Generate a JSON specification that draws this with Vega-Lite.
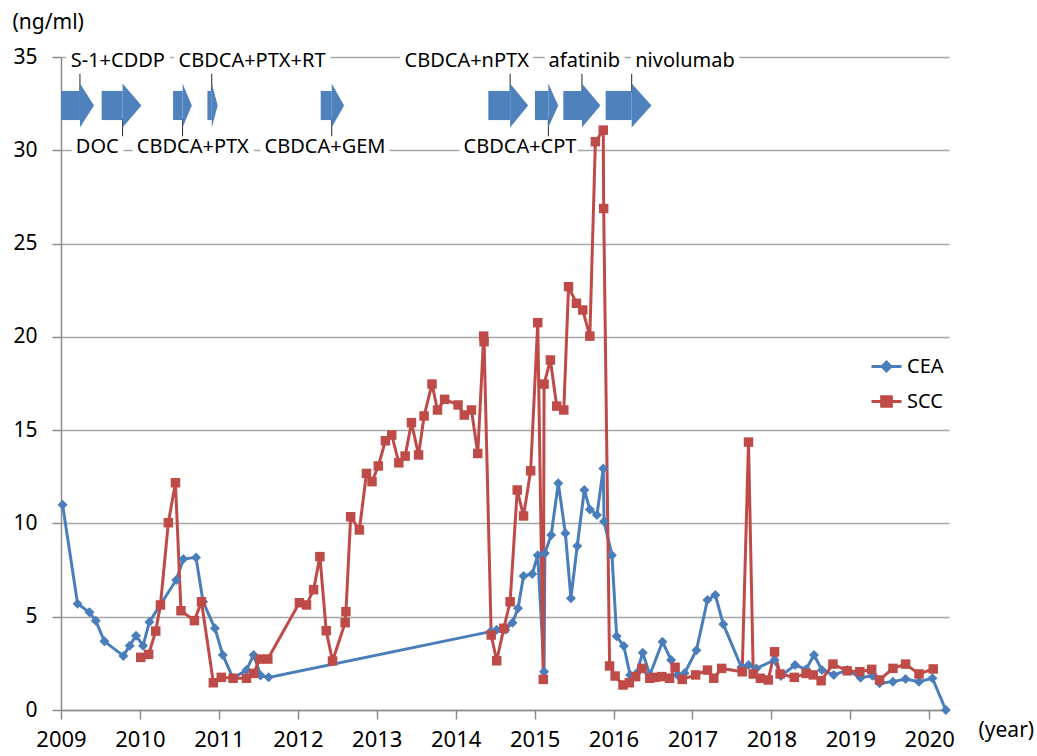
{
  "$schema": "https://vega.github.io/schema/vega-lite/v6.json",
  "width": 888,
  "height": 653,
  "autosize": {"type": "none"},
  "padding": {"left": 61, "top": 57, "right": 88, "bottom": 46},
  "background": "white",
  "config": {
    "font": "Noto Sans",
    "view": {"stroke": null},
    "axis": {"labelColor": "#000000", "titleColor": "#000000", "titleFontWeight": "normal"}
  },
  "datasets": {
    "markers": [
      {"series": "CEA", "year": 2009.02, "value": 11.0},
      {"series": "CEA", "year": 2009.21, "value": 5.7},
      {"series": "CEA", "year": 2009.36, "value": 5.24},
      {"series": "CEA", "year": 2009.44, "value": 4.79},
      {"series": "CEA", "year": 2009.55, "value": 3.68},
      {"series": "CEA", "year": 2009.79, "value": 2.9},
      {"series": "CEA", "year": 2009.87, "value": 3.45},
      {"series": "CEA", "year": 2009.95, "value": 3.98},
      {"series": "CEA", "year": 2010.04, "value": 3.45},
      {"series": "CEA", "year": 2010.12, "value": 4.72},
      {"series": "CEA", "year": 2010.46, "value": 6.97},
      {"series": "CEA", "year": 2010.55, "value": 8.09},
      {"series": "CEA", "year": 2010.71, "value": 8.18},
      {"series": "CEA", "year": 2010.8, "value": 5.8},
      {"series": "CEA", "year": 2010.95, "value": 4.38},
      {"series": "CEA", "year": 2011.05, "value": 2.95},
      {"series": "CEA", "year": 2011.18, "value": 1.7},
      {"series": "CEA", "year": 2011.35, "value": 2.14},
      {"series": "CEA", "year": 2011.44, "value": 2.95},
      {"series": "CEA", "year": 2011.53, "value": 1.85},
      {"series": "CEA", "year": 2011.63, "value": 1.75},
      {"series": "CEA", "year": 2014.44, "value": 4.2},
      {"series": "CEA", "year": 2014.52, "value": 4.3},
      {"series": "CEA", "year": 2014.63, "value": 4.3},
      {"series": "CEA", "year": 2014.72, "value": 4.68},
      {"series": "CEA", "year": 2014.79, "value": 5.45},
      {"series": "CEA", "year": 2014.86, "value": 7.18},
      {"series": "CEA", "year": 2014.97, "value": 7.29},
      {"series": "CEA", "year": 2015.04, "value": 8.3},
      {"series": "CEA", "year": 2015.12, "value": 2.05},
      {"series": "CEA", "year": 2015.13, "value": 8.4},
      {"series": "CEA", "year": 2015.21, "value": 9.38},
      {"series": "CEA", "year": 2015.3, "value": 12.15},
      {"series": "CEA", "year": 2015.39, "value": 9.47},
      {"series": "CEA", "year": 2015.46, "value": 5.99},
      {"series": "CEA", "year": 2015.54, "value": 8.79},
      {"series": "CEA", "year": 2015.63, "value": 11.79},
      {"series": "CEA", "year": 2015.7, "value": 10.75},
      {"series": "CEA", "year": 2015.79, "value": 10.45},
      {"series": "CEA", "year": 2015.87, "value": 12.95},
      {"series": "CEA", "year": 2015.88, "value": 10.1},
      {"series": "CEA", "year": 2015.98, "value": 8.3},
      {"series": "CEA", "year": 2016.04, "value": 3.95},
      {"series": "CEA", "year": 2016.13, "value": 3.43},
      {"series": "CEA", "year": 2016.21, "value": 1.88},
      {"series": "CEA", "year": 2016.29, "value": 1.95},
      {"series": "CEA", "year": 2016.37, "value": 3.07},
      {"series": "CEA", "year": 2016.46, "value": 1.88},
      {"series": "CEA", "year": 2016.62, "value": 3.66},
      {"series": "CEA", "year": 2016.73, "value": 2.68},
      {"series": "CEA", "year": 2016.81, "value": 1.88},
      {"series": "CEA", "year": 2016.9, "value": 1.97},
      {"series": "CEA", "year": 2017.05, "value": 3.2},
      {"series": "CEA", "year": 2017.19, "value": 5.9},
      {"series": "CEA", "year": 2017.29, "value": 6.16},
      {"series": "CEA", "year": 2017.39, "value": 4.6},
      {"series": "CEA", "year": 2017.62, "value": 2.29},
      {"series": "CEA", "year": 2017.71, "value": 2.41},
      {"series": "CEA", "year": 2017.81, "value": 2.23},
      {"series": "CEA", "year": 2018.04, "value": 2.68},
      {"series": "CEA", "year": 2018.12, "value": 1.82},
      {"series": "CEA", "year": 2018.3, "value": 2.41},
      {"series": "CEA", "year": 2018.44, "value": 2.18},
      {"series": "CEA", "year": 2018.54, "value": 2.95},
      {"series": "CEA", "year": 2018.64, "value": 2.14},
      {"series": "CEA", "year": 2018.79, "value": 1.88},
      {"series": "CEA", "year": 2018.96, "value": 2.14},
      {"series": "CEA", "year": 2019.13, "value": 1.73},
      {"series": "CEA", "year": 2019.28, "value": 1.84},
      {"series": "CEA", "year": 2019.37, "value": 1.43},
      {"series": "CEA", "year": 2019.54, "value": 1.52},
      {"series": "CEA", "year": 2019.7, "value": 1.66},
      {"series": "CEA", "year": 2019.87, "value": 1.52},
      {"series": "CEA", "year": 2020.04, "value": 1.7},
      {"series": "CEA", "year": 2020.21, "value": 0.0},
      {"series": "SCC", "year": 2010.01, "value": 2.82},
      {"series": "SCC", "year": 2010.11, "value": 2.98},
      {"series": "SCC", "year": 2010.2, "value": 4.23},
      {"series": "SCC", "year": 2010.26, "value": 5.63},
      {"series": "SCC", "year": 2010.36, "value": 10.04},
      {"series": "SCC", "year": 2010.45, "value": 12.18},
      {"series": "SCC", "year": 2010.52, "value": 5.32},
      {"series": "SCC", "year": 2010.69, "value": 4.79},
      {"series": "SCC", "year": 2010.78, "value": 5.8},
      {"series": "SCC", "year": 2010.93, "value": 1.46},
      {"series": "SCC", "year": 2011.03, "value": 1.75},
      {"series": "SCC", "year": 2011.18, "value": 1.7},
      {"series": "SCC", "year": 2011.35, "value": 1.7},
      {"series": "SCC", "year": 2011.44, "value": 1.96},
      {"series": "SCC", "year": 2011.52, "value": 2.73},
      {"series": "SCC", "year": 2011.62, "value": 2.73},
      {"series": "SCC", "year": 2012.02, "value": 5.75},
      {"series": "SCC", "year": 2012.11, "value": 5.63},
      {"series": "SCC", "year": 2012.2, "value": 6.45},
      {"series": "SCC", "year": 2012.28, "value": 8.22},
      {"series": "SCC", "year": 2012.36, "value": 4.25},
      {"series": "SCC", "year": 2012.44, "value": 2.63},
      {"series": "SCC", "year": 2012.6, "value": 4.68},
      {"series": "SCC", "year": 2012.61, "value": 5.27},
      {"series": "SCC", "year": 2012.67, "value": 10.36},
      {"series": "SCC", "year": 2012.78, "value": 9.65},
      {"series": "SCC", "year": 2012.87, "value": 12.68},
      {"series": "SCC", "year": 2012.94, "value": 12.24},
      {"series": "SCC", "year": 2013.02, "value": 13.08},
      {"series": "SCC", "year": 2013.11, "value": 14.43},
      {"series": "SCC", "year": 2013.19, "value": 14.74},
      {"series": "SCC", "year": 2013.28, "value": 13.25},
      {"series": "SCC", "year": 2013.36, "value": 13.61},
      {"series": "SCC", "year": 2013.44, "value": 15.4},
      {"series": "SCC", "year": 2013.53, "value": 13.67},
      {"series": "SCC", "year": 2013.6, "value": 15.76},
      {"series": "SCC", "year": 2013.7, "value": 17.47},
      {"series": "SCC", "year": 2013.77, "value": 16.08},
      {"series": "SCC", "year": 2013.86, "value": 16.65},
      {"series": "SCC", "year": 2014.03, "value": 16.35},
      {"series": "SCC", "year": 2014.11, "value": 15.81},
      {"series": "SCC", "year": 2014.2, "value": 16.08},
      {"series": "SCC", "year": 2014.28, "value": 13.75},
      {"series": "SCC", "year": 2014.355, "value": 20.04},
      {"series": "SCC", "year": 2014.36, "value": 19.74},
      {"series": "SCC", "year": 2014.45, "value": 4.02},
      {"series": "SCC", "year": 2014.52, "value": 2.64},
      {"series": "SCC", "year": 2014.61, "value": 4.38},
      {"series": "SCC", "year": 2014.69, "value": 5.8},
      {"series": "SCC", "year": 2014.78, "value": 11.79},
      {"series": "SCC", "year": 2014.86, "value": 10.4},
      {"series": "SCC", "year": 2014.95, "value": 12.82},
      {"series": "SCC", "year": 2015.04, "value": 20.76},
      {"series": "SCC", "year": 2015.11, "value": 1.64},
      {"series": "SCC", "year": 2015.12, "value": 17.47},
      {"series": "SCC", "year": 2015.2, "value": 18.76},
      {"series": "SCC", "year": 2015.28, "value": 16.29},
      {"series": "SCC", "year": 2015.37, "value": 16.08},
      {"series": "SCC", "year": 2015.43, "value": 22.69},
      {"series": "SCC", "year": 2015.53, "value": 21.8},
      {"series": "SCC", "year": 2015.61, "value": 21.44},
      {"series": "SCC", "year": 2015.7, "value": 20.04},
      {"series": "SCC", "year": 2015.77, "value": 30.46},
      {"series": "SCC", "year": 2015.87, "value": 31.08},
      {"series": "SCC", "year": 2015.875, "value": 26.88},
      {"series": "SCC", "year": 2015.95, "value": 2.36},
      {"series": "SCC", "year": 2016.02, "value": 1.82},
      {"series": "SCC", "year": 2016.12, "value": 1.34},
      {"series": "SCC", "year": 2016.2, "value": 1.46},
      {"series": "SCC", "year": 2016.28, "value": 1.79},
      {"series": "SCC", "year": 2016.36, "value": 2.23},
      {"series": "SCC", "year": 2016.46, "value": 1.7},
      {"series": "SCC", "year": 2016.53, "value": 1.75},
      {"series": "SCC", "year": 2016.61, "value": 1.79},
      {"series": "SCC", "year": 2016.71, "value": 1.7},
      {"series": "SCC", "year": 2016.78, "value": 2.29},
      {"series": "SCC", "year": 2016.87, "value": 1.64},
      {"series": "SCC", "year": 2017.04, "value": 1.88},
      {"series": "SCC", "year": 2017.19, "value": 2.14},
      {"series": "SCC", "year": 2017.27, "value": 1.7},
      {"series": "SCC", "year": 2017.37, "value": 2.23},
      {"series": "SCC", "year": 2017.63, "value": 2.05},
      {"series": "SCC", "year": 2017.71, "value": 14.36},
      {"series": "SCC", "year": 2017.77, "value": 1.93},
      {"series": "SCC", "year": 2017.86, "value": 1.7},
      {"series": "SCC", "year": 2017.96, "value": 1.61},
      {"series": "SCC", "year": 2018.04, "value": 3.12},
      {"series": "SCC", "year": 2018.11, "value": 1.93},
      {"series": "SCC", "year": 2018.29, "value": 1.75},
      {"series": "SCC", "year": 2018.44, "value": 1.96},
      {"series": "SCC", "year": 2018.53, "value": 1.88},
      {"series": "SCC", "year": 2018.63, "value": 1.57},
      {"series": "SCC", "year": 2018.78, "value": 2.46},
      {"series": "SCC", "year": 2018.96, "value": 2.1},
      {"series": "SCC", "year": 2019.12, "value": 2.05},
      {"series": "SCC", "year": 2019.27, "value": 2.18},
      {"series": "SCC", "year": 2019.37, "value": 1.61},
      {"series": "SCC", "year": 2019.54, "value": 2.23},
      {"series": "SCC", "year": 2019.7, "value": 2.46},
      {"series": "SCC", "year": 2019.87, "value": 1.93},
      {"series": "SCC", "year": 2020.05, "value": 2.2}
    ],
    "treatments": [
      {"treatment": "S-1+CDDP", "start": 2009.0, "neck": 2009.24, "end": 2009.42, "labelYear": 2009.72},
      {"treatment": "DOC", "start": 2009.515, "neck": 2009.78, "end": 2010.02, "labelYear": 2009.46},
      {"treatment": "CBDCA+PTX", "start": 2010.42, "neck": 2010.54, "end": 2010.655, "labelYear": 2010.67},
      {"treatment": "CBDCA+PTX+RT", "start": 2010.855, "neck": 2010.91, "end": 2010.98, "labelYear": 2011.42},
      {"treatment": "CBDCA+GEM", "start": 2012.29, "neck": 2012.43, "end": 2012.585, "labelYear": 2012.345},
      {"treatment": "CBDCA+nPTX", "start": 2014.414, "neck": 2014.69, "end": 2014.92, "labelYear": 2014.14},
      {"treatment": "CBDCA+CPT", "start": 2015.005, "neck": 2015.174, "end": 2015.3, "labelYear": 2014.815},
      {"treatment": "afatinib", "start": 2015.364, "neck": 2015.6, "end": 2015.83, "labelYear": 2015.63},
      {"treatment": "nivolumab", "start": 2015.9, "neck": 2016.23, "end": 2016.48, "labelYear": 2016.905}
    ]
  },
  "layer": [
    {
      "data": {"name": "treatments"},
      "transform": [{"filter": {"field": "treatment", "oneOf": ["S-1+CDDP", "CBDCA+PTX+RT", "CBDCA+nPTX", "afatinib", "nivolumab"]}}],
      "mark": {"type": "text", "fontSize": 20, "fill": "white", "stroke": "white", "strokeWidth": 12, "strokeJoin": "round", "baseline": "middle", "align": "center"},
      "encoding": {
        "x": {"field": "labelYear", "type": "quantitative"},
        "y": {"datum": 34.8, "type": "quantitative"},
        "text": {"field": "treatment"}
      }
    },
    {
      "data": {"name": "treatments"},
      "transform": [{"filter": {"field": "treatment", "oneOf": ["DOC", "CBDCA+PTX", "CBDCA+GEM", "CBDCA+CPT"]}}],
      "mark": {"type": "text", "fontSize": 20, "fill": "white", "stroke": "white", "strokeWidth": 12, "strokeJoin": "round", "baseline": "middle", "align": "center"},
      "encoding": {
        "x": {"field": "labelYear", "type": "quantitative"},
        "y": {"datum": 30.15, "type": "quantitative"},
        "text": {"field": "treatment"}
      }
    },
    {
      "data": {"name": "treatments"},
      "transform": [{"filter": {"field": "treatment", "oneOf": ["S-1+CDDP", "CBDCA+PTX+RT", "CBDCA+nPTX", "afatinib", "nivolumab"]}}],
      "mark": {"type": "rule", "color": "#262626", "strokeWidth": 1},
      "encoding": {
        "x": {"field": "neck", "type": "quantitative"},
        "y": {"datum": 34.1, "type": "quantitative"},
        "y2": {"datum": 33.1}
      }
    },
    {
      "data": {"name": "treatments"},
      "transform": [{"filter": {"field": "treatment", "oneOf": ["DOC", "CBDCA+PTX", "CBDCA+GEM", "CBDCA+CPT"]}}],
      "mark": {"type": "rule", "color": "#262626", "strokeWidth": 1},
      "encoding": {
        "x": {"field": "neck", "type": "quantitative"},
        "y": {"datum": 31.7, "type": "quantitative"},
        "y2": {"datum": 30.75}
      }
    },
    {
      "data": {"name": "treatments"},
      "mark": {"type": "rect", "color": "#4F81BD", "opacity": 1},
      "encoding": {
        "x": {"field": "start", "type": "quantitative"},
        "x2": {"field": "neck"},
        "y": {"datum": 33.18, "type": "quantitative"},
        "y2": {"datum": 31.62}
      }
    },
    {
      "data": {"name": "treatments"},
      "mark": {"type": "point", "filled": true, "color": "#4F81BD", "opacity": 1, "size": 1936, "strokeWidth": 0},
      "encoding": {
        "x": {"field": "neck", "type": "quantitative"},
        "y": {"datum": 32.4, "type": "quantitative"},
        "shape": {
          "field": "treatment",
          "type": "nominal",
          "legend": null,
          "scale": {
            "domain": ["S-1+CDDP", "DOC", "CBDCA+PTX", "CBDCA+PTX+RT", "CBDCA+GEM", "CBDCA+nPTX", "CBDCA+CPT", "afatinib", "nivolumab"],
            "range": ["M 0 -1 L 0.64 0 L 0 1 Z", "M 0 -1 L 0.86 0 L 0 1 Z", "M 0 -1 L 0.42 0 L 0 1 Z", "M 0 -1 L 0.27 0 L 0 1 Z", "M 0 -1 L 0.56 0 L 0 1 Z", "M 0 -1 L 0.82 0 L 0 1 Z", "M 0 -1 L 0.45 0 L 0 1 Z", "M 0 -1 L 0.84 0 L 0 1 Z", "M 0 -1 L 0.9 0 L 0 1 Z"]
          }
        }
      }
    },
    {
      "data": {"name": "treatments"},
      "transform": [{"filter": {"field": "treatment", "oneOf": ["S-1+CDDP", "CBDCA+PTX+RT", "CBDCA+nPTX", "afatinib", "nivolumab"]}}],
      "mark": {"type": "text", "fontSize": 20, "color": "#000000", "baseline": "middle", "align": "center"},
      "encoding": {
        "x": {"field": "labelYear", "type": "quantitative"},
        "y": {"datum": 34.8, "type": "quantitative"},
        "text": {"field": "treatment"}
      }
    },
    {
      "data": {"name": "treatments"},
      "transform": [{"filter": {"field": "treatment", "oneOf": ["DOC", "CBDCA+PTX", "CBDCA+GEM", "CBDCA+CPT"]}}],
      "mark": {"type": "text", "fontSize": 20, "color": "#000000", "baseline": "middle", "align": "center"},
      "encoding": {
        "x": {"field": "labelYear", "type": "quantitative"},
        "y": {"datum": 30.15, "type": "quantitative"},
        "text": {"field": "treatment"}
      }
    },
    {
      "data": {"name": "markers"},
      "mark": {"type": "line", "strokeWidth": 3},
      "encoding": {
        "x": {
          "field": "year",
          "type": "quantitative",
          "scale": {"domain": [2009, 2020.25], "nice": false, "zero": false},
          "axis": {
            "title": "(year)",
            "titleFontSize": 21,
            "titleAngle": 0,
            "titleAlign": "left",
            "titleBaseline": "middle",
            "titleX": 917,
            "titleY": 20,
            "values": [2009, 2010, 2011, 2012, 2013, 2014, 2015, 2016, 2017, 2018, 2019, 2020],
            "format": "d",
            "grid": false,
            "domainColor": "#8C8C8C",
            "domainWidth": 1.5,
            "tickColor": "#8C8C8C",
            "tickWidth": 1.5,
            "tickSize": 9,
            "labelFontSize": 22,
            "labelPadding": 10,
            "labelFlush": false
          }
        },
        "y": {
          "field": "value",
          "type": "quantitative",
          "scale": {"domain": [0, 35], "nice": false},
          "axis": {
            "title": "(ng/ml)",
            "titleFontSize": 21,
            "titleAngle": 0,
            "titleAlign": "left",
            "titleBaseline": "middle",
            "titleX": -49,
            "titleY": -35,
            "values": [0, 5, 10, 15, 20, 25, 30, 35],
            "grid": true,
            "gridColor": "#A6A6A6",
            "gridWidth": 1.5,
            "domainColor": "#8C8C8C",
            "domainWidth": 1.5,
            "tickColor": "#8C8C8C",
            "tickWidth": 1.5,
            "tickSize": 9,
            "labelFontSize": 21,
            "labelPadding": 15,
            "labelFlush": false
          }
        },
        "color": {
          "field": "series",
          "type": "nominal",
          "scale": {"domain": ["CEA", "SCC"], "range": ["#4A7EBB", "#BE4B48"]},
          "legend": {
            "orient": "none",
            "legendX": 809,
            "legendY": 293,
            "title": null,
            "padding": 0,
            "symbolSize": 900,
            "symbolType": "M -1 0 H 1 M -0.3 0 L 0 -0.3 L 0.3 0 L 0 0.3 Z",
            "symbolStrokeWidth": 2.8,
            "labelFontSize": 20,
            "labelColor": "#000000",
            "labelOffset": 4,
            "rowPadding": 8,
            "encode": {
              "symbols": {
                "update": {
                  "shape": {"signal": "datum.value === 'SCC' ? 'M -1 0 H 1 M -0.33 -0.33 H 0.33 V 0.33 H -0.33 Z' : 'M -1 0 H 1 M -0.3 0 L 0 -0.3 L 0.3 0 L 0 0.3 Z'"},
                  "fill": {"signal": "datum.value === 'SCC' ? '#BE4B48' : '#4A7EBB'"}
                }
              }
            }
          }
        },
        "detail": {"field": "series"},
        "order": {"value": null}
      }
    },
    {
      "data": {"name": "markers"},
      "transform": [{"filter": {"field": "series", "equal": "CEA"}}],
      "mark": {"type": "point", "shape": "diamond", "filled": true, "size": 100, "opacity": 1, "color": "#4A7EBB"},
      "encoding": {
        "x": {"field": "year", "type": "quantitative"},
        "y": {"field": "value", "type": "quantitative"}
      }
    },
    {
      "data": {"name": "markers"},
      "transform": [{"filter": {"field": "series", "equal": "SCC"}}],
      "mark": {"type": "point", "shape": "square", "filled": true, "size": 90, "opacity": 1, "color": "#BE4B48"},
      "encoding": {
        "x": {"field": "year", "type": "quantitative"},
        "y": {"field": "value", "type": "quantitative"}
      }
    }
  ]
}
